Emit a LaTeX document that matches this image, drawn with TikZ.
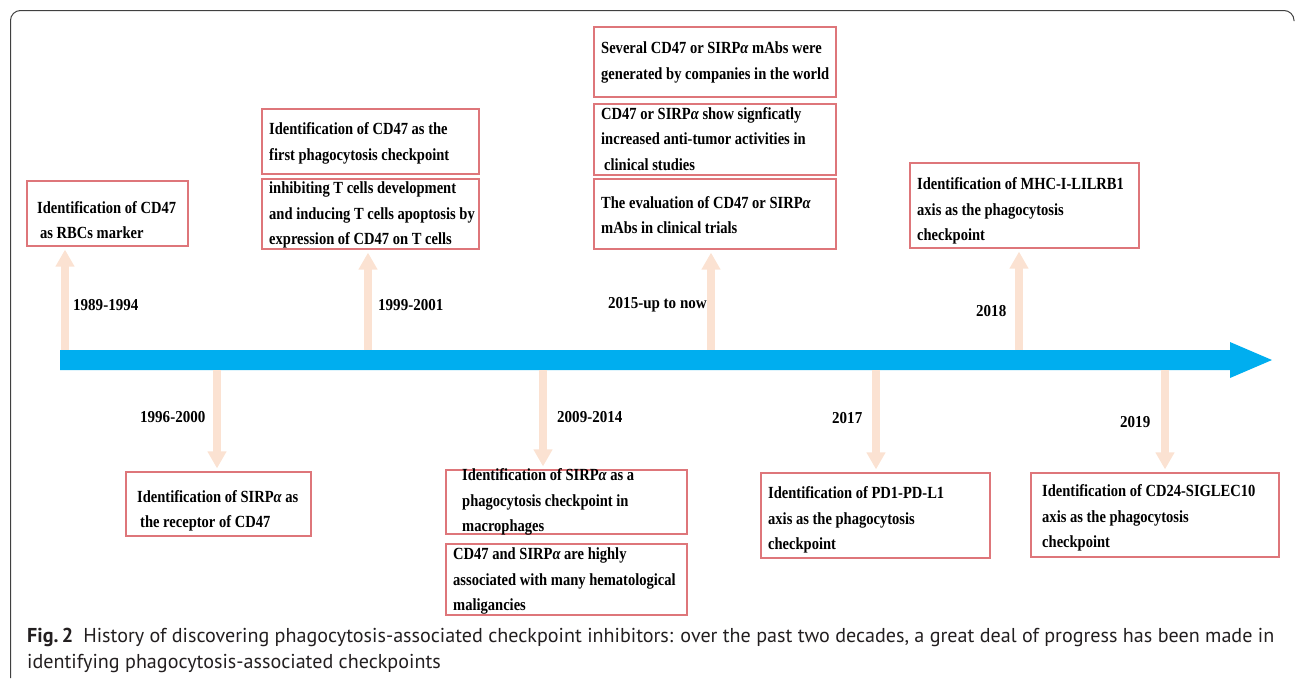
\documentclass[tikz,border=0pt]{standalone}
\usepackage{fontspec}
\setmainfont{Liberation Serif}
\newfontfamily\boxfont{Liberation Serif}[FakeStretch=0.855]
\newfontfamily\yrfont{Liberation Serif}[FakeStretch=0.9]
\newfontfamily\capfont{PT Sans}
\usetikzlibrary{arrows.meta}
\definecolor{tlblue}{RGB}{0,174,239}
\definecolor{peach}{RGB}{251,226,210}
\definecolor{boxred}{RGB}{222,118,122}
\definecolor{capcol}{RGB}{35,31,32}
\tikzset{
  evbox/.style={draw=boxred, line width=1.2pt, inner sep=0pt, fill=white},
  evtxt/.style={inner sep=0pt, align=left, anchor=west, font=\boxfont\bfseries\fontsize{17}{25.5}\selectfont},
  yrlbl/.style={inner sep=0pt, anchor=west, font=\yrfont\bfseries\fontsize{16.7}{18}\selectfont},
  tarrow/.style={draw=peach, line width=8.5pt, line cap=butt, shorten >=3pt,
    -{Triangle[width=18pt,length=17pt]}},
}
\newcommand{\sa}{{\itshape α}}
\begin{document}
\begin{tikzpicture}[x=1pt,y=-1pt]
\useasboundingbox (0,0) rectangle (1295,678);
% frame
\draw[line width=1pt, black!75, rounded corners=10pt] (10.5,678) -- (10.5,10.5) -- (1294,10.5) -- (1294,21);
% timeline
\fill[tlblue] (60,350) -- (1230,350) -- (1230,342) -- (1272,360) -- (1230,378) -- (1230,370) -- (60,370) -- cycle;
\coordinate (u1) at (65,350);
\coordinate (u2) at (368,350);
\coordinate (u3) at (711,350);
\coordinate (u4) at (1019,350);
\coordinate (d5) at (217,370);
\coordinate (d6) at (543,370);
\coordinate (d7) at (876,370);
\coordinate (d8) at (1165,370);
% boxes
\node[evbox, minimum width=161pt, minimum height=65pt] (b1) at (107.5,213.5) {};
\node[evbox, minimum width=217pt, minimum height=65pt] (b2a) at (370.5,141.5) {};
\node[evbox, minimum width=217pt, minimum height=70pt] (b2b) at (370.5,214) {};
\node[evbox, minimum width=242pt, minimum height=70pt] (b3a) at (715,62) {};
\node[evbox, minimum width=242pt, minimum height=71pt] (b3b) at (715,139.5) {};
\node[evbox, minimum width=242pt, minimum height=70pt] (b3c) at (715,214) {};
\node[evbox, minimum width=229pt, minimum height=85pt] (b4) at (1024.5,205.5) {};
\node[evbox, minimum width=185pt, minimum height=64pt] (b5) at (218.5,504) {};
\node[evbox, minimum width=241pt, minimum height=64pt] (b6a) at (566.5,502) {};
\node[evbox, minimum width=241pt, minimum height=71pt] (b6b) at (566.5,579.5) {};
\node[evbox, minimum width=229pt, minimum height=85pt] (b7) at (875.5,515.5) {};
\node[evbox, minimum width=248pt, minimum height=84pt] (b8) at (1155,515) {};
% texts
\node[evtxt] (t1) at (37,220) {Identification of CD47\\\hspace{3pt}as RBCs marker};
\node[evtxt] (t2a) at (269,143.5) {Identification of CD47 as the\\first phagocytosis checkpoint};
\node[evtxt] (t2b) at (269,215) {inhibiting T cells development\\and inducing T cells apoptosis by\\expression of CD47 on T cells};
\node[evtxt] (t3a) at (601,62.5) {Several CD47 or SIRP\sa{} mAbs were\\generated by companies in the world};
\node[evtxt] (t3b) at (601,139) {CD47 or SIRP\sa{} show signficatly\\increased anti-tumor activities in\\\hspace{3pt}clinical studies};
\node[evtxt] (t3c) at (601,215) {The evaluation of CD47 or SIRP\sa\\mAbs in clinical trials};
\node[evtxt] (t4) at (917,211) {Identification of MHC-I-LILRB1\\axis as the phagocytosis\\checkpoint};
\node[evtxt] (t5) at (137,511) {Identification of SIRP\sa{} as\\\hspace{3pt}the receptor of CD47};
\node[evtxt] (t6a) at (462,502) {Identification of SIRP\sa{} as a\\phagocytosis checkpoint in\\macrophages};
\node[evtxt] (t6b) at (453,581) {CD47 and SIRP\sa{} are highly\\associated with many hematological\\maligancies};
\node[evtxt] (t7) at (768,520) {Identification of PD1-PD-L1\\axis as the phagocytosis\\checkpoint};
\node[evtxt] (t8) at (1042,518) {Identification of CD24-SIGLEC10\\axis as the phagocytosis\\checkpoint};
% arrows
\draw[tarrow] (u1) -- (u1 |- b1.south);
\draw[tarrow] (u2) -- (u2 |- b2b.south);
\draw[tarrow] (u3) -- (u3 |- b3c.south);
\draw[tarrow] (u4) -- (u4 |- b4.south);
\draw[tarrow] (d5) -- (d5 |- b5.north);
\draw[tarrow] (d6) -- (d6 |- b6a.north);
\draw[tarrow] (d7) -- (d7 |- b7.north);
\draw[tarrow] (d8) -- (d8 |- b8.north);
% year labels
\node[yrlbl] (y1) at (73,305) {1989-1994};
\node[yrlbl] (y2) at (378,305) {1999-2001};
\node[yrlbl] (y3) at (608,305) {2015-up to now};
\node[yrlbl] (y4) at (976,311) {2018};
\node[yrlbl] (y5) at (140,417) {1996-2000};
\node[yrlbl] (y6) at (557,417) {2009-2014};
\node[yrlbl] (y7) at (832,418) {2017};
\node[yrlbl] (y8) at (1120,422) {2019};
% caption
\node[inner sep=0pt, anchor=base west, align=left, text=capcol,
  font=\capfont\fontsize{20.1}{26}\selectfont] (cap) at (27,668)
  {\textbf{Fig.\,2}\hspace{10pt}History of discovering phagocytosis-associated checkpoint inhibitors: over the past two decades, a great deal of progress has been made in\\identifying phagocytosis-associated checkpoints};
\end{tikzpicture}
\end{document}
